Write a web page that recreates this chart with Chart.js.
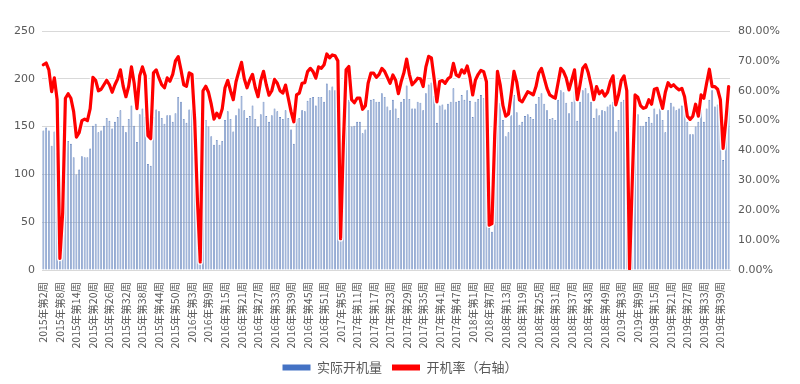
<!DOCTYPE html>
<html>
<head>
<meta charset="utf-8">
<script src="https://cdn.jsdelivr.net/npm/chart.js@4.4.1/dist/chart.umd.min.js"></script>
<style>
  html, body { margin: 0; padding: 0; background: #fff; }
  #wrap { width: 800px; height: 384px; }
</style>
</head>
<body>
<div id="wrap"><canvas id="firstGrafic" width="800" height="384"></canvas></div>
<script>
// 周度开机量与开机率 2015年第2周 - 2019年第42周
const years = [2015, 2016, 2017, 2018, 2019]
const firstWeek = [2, 1, 1, 1, 1]
const lastWeek = [53, 52, 52, 52, 42]

const openCount = [
  146,149,146,130,145,122,10,37,127,135,132,118,100,105,119,118,118,127,151,153,
  144,146,151,159,156,148,155,160,167,151,144,158,172,151,134,163,169,160,111,109,
  160,168,166,159,153,162,162,155,164,181,176,158,154,168,168,118,55,8,157,157,
  150,140,131,136,131,135,157,166,158,145,162,169,182,167,159,161,172,158,150,163,
  176,161,155,162,169,166,160,158,167,159,147,132,158,159,167,166,177,180,181,172,
  181,181,176,195,188,192,188,185,32,110,183,178,150,151,155,155,143,147,167,178,
  179,176,176,185,181,171,167,178,169,159,176,179,193,179,169,169,176,175,167,185,
  194,196,182,154,172,173,168,174,176,190,176,177,183,178,188,177,160,176,179,183,
  180,172,44,40,125,183,175,157,140,144,162,183,165,152,155,161,163,160,158,174,
  181,185,174,167,158,159,157,178,188,186,175,164,176,187,156,176,188,190,185,176,
  159,169,162,167,166,171,173,176,145,157,176,178,165,1,85,183,163,151,151,155,
  160,154,169,163,169,157,144,167,175,171,167,169,172,169,155,142,142,150,155,167,
  155,169,178,188,171,173,167,115,154,172
]

const openRate = [
  68.7,69.3,67,59.7,64.3,57,3.9,19,57.5,59,57.5,53,44.5,46,50,50.5,50,54,64.5,63.5,
  60,60.5,62,63.5,62,59.5,62,64,67,61.5,58,61.5,68,62.5,54,65,68,65,45,44,
  66,67,64.3,62,61,64.3,63.2,65.5,70,71.4,67,62,61.5,66,65.5,50,23,2.7,60,61.5,
  59.5,55.5,50.5,52.5,51,54,61,63.5,60,57,63,66.4,69.5,64,61,63.6,65.5,61,58,63.5,
  66.5,62,58.5,60,63.8,62.5,60,59.2,61.9,57.5,53,49.6,58.6,59.2,62.5,62.7,66.4,67.5,66.4,64.2,
  68,67.5,68.7,72.3,71,72,71.7,70,10.5,42,67,68.1,57,56,57.5,57.5,53.8,55,62.5,65.9,
  65.9,64.5,65.5,67.5,66.5,64.5,62.5,65.3,63.5,59,63,66,70.6,65.5,62,63,64.2,64,61.4,68,
  71.5,71,64,56.3,63.1,63.4,62.5,64,64.7,69.2,65.3,64.7,67,65.9,68.3,64.5,58.6,63.6,65.5,66.8,
  66.4,63,15,15.5,45,66.5,62,55,51.5,52.2,59,66.5,63,56.9,56.3,58,59.7,59.2,58.6,61.4,
  65.9,67.5,64.2,60.8,58.6,58,57.5,62.5,67.5,66.4,64.2,60.3,63.6,67,57,62,67.5,68.7,66,62,
  57,61.4,59,60,58.2,59.5,63,65,55.3,58.6,63.5,65,60,0.4,30,58.6,57.8,55,54.1,54.5,
  57,55.5,60.5,60.8,57.5,54.1,59.5,62.7,61.4,62,61,60.3,60.8,58,51.5,50.4,51.5,55.5,51.5,58.6,
  57.5,62.5,67.2,61.4,61.4,60.5,57,40.7,50,61.4
]

let weeks = []
years.forEach((y, k) => {
  for (let w = firstWeek[k]; w <= lastWeek[k]; w++) weeks.push(y + '年第' + w + '周')
})

const gray = '#595959'
const cjk = '"Noto Sans CJK SC", "Noto Sans", sans-serif'

let ctx = document.getElementById('firstGrafic').getContext('2d')
let chart = new Chart(ctx, {
  data: {
    labels: weeks,
    datasets: [
      {
        type: 'bar',
        label: '实际开机量',
        data: openCount,
        yAxisID: 'y',
        backgroundColor: '#93abd2',
        borderColor: '#4d70b4',
        borderWidth: 0.6,
        barPercentage: 0.68,
        categoryPercentage: 1,
        order: 3
      },
      {
        type: 'line',
        label: 'halo',
        data: openRate,
        yAxisID: 'y1',
        borderColor: 'rgba(255,255,255,0.85)',
        borderWidth: 6,
        pointRadius: 0,
        tension: 0,
        borderJoinStyle: 'round',
        order: 2
      },
      {
        type: 'line',
        label: '开机率（右轴）',
        data: openRate,
        yAxisID: 'y1',
        borderColor: '#ff0000',
        backgroundColor: '#ff0000',
        borderWidth: 3.2,
        pointRadius: 0,
        tension: 0,
        borderJoinStyle: 'round',
        borderCapStyle: 'round',
        order: 1
      }
    ]
  },
  options: {
    responsive: false,
    animation: false,
    layout: { padding: { top: 31, left: 0, right: 0, bottom: 0 } },
    plugins: {
      tooltip: { enabled: false },
      legend: {
        position: 'bottom',
        labels: {
          boxWidth: 28,
          boxHeight: 6,
          padding: 10,
          color: gray,
          font: { family: cjk, size: 13 },
          filter: (item) => item.datasetIndex !== 1,
          sort: (a, b) => a.datasetIndex - b.datasetIndex,
          generateLabels: (c) => {
            let items = Chart.defaults.plugins.legend.labels.generateLabels(c)
            items.forEach(it => {
              if (it.datasetIndex === 0) { it.fillStyle = '#4472c4'; it.strokeStyle = '#4472c4'; it.lineWidth = 0 }
              if (it.datasetIndex === 2) { it.fillStyle = '#ff0000'; it.strokeStyle = '#ff0000'; it.lineWidth = 0 }
            })
            return items
          }
        }
      }
    },
    scales: {
      x: {
        grid: { display: false },
        border: { display: true, color: '#d9d9d9' },
        afterFit: (s) => { s.height = 81 },
        ticks: {
          autoSkip: false,
          maxRotation: 90,
          minRotation: 90,
          padding: 4,
          color: gray,
          font: { family: cjk, size: 10.5 },
          callback: function (v, i) { return i % 6 === 0 ? this.getLabelForValue(v) : '' }
        }
      },
      y: {
        position: 'left',
        min: 0,
        max: 250,
        afterFit: (s) => { s.width = 42 },
        border: { display: false },
        grid: { color: '#d9d9d9', drawTicks: false },
        ticks: {
          stepSize: 50,
          padding: 7,
          color: gray,
          font: { family: 'DejaVu Sans', size: 11 }
        }
      },
      y1: {
        position: 'right',
        min: 0,
        max: 80,
        afterFit: (s) => { s.width = 70 },
        border: { display: false },
        grid: { display: false, drawTicks: false },
        ticks: {
          stepSize: 10,
          padding: 8,
          color: gray,
          font: { family: 'DejaVu Sans', size: 11 },
          callback: (v) => v.toFixed(2) + '%'
        }
      }
    }
  }
})
</script>
</body>
</html>
